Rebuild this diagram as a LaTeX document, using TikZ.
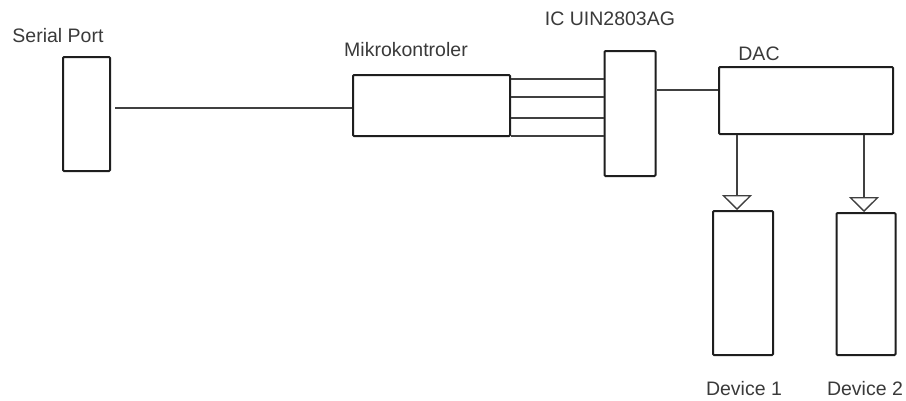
\documentclass[tikz,border=0pt]{standalone}
\usepackage{fontspec}
\setmainfont{Liberation Sans}
\usetikzlibrary{arrows.meta}
\definecolor{ink}{HTML}{1E1E1E}
\definecolor{txt}{HTML}{3A3A3A}
\begin{document}
\begin{tikzpicture}[x=1pt,y=-1pt,
  blk/.style={draw=ink,line width=2pt,rounded corners=1pt,inner sep=0pt,fill=white},
  wire/.style={draw=ink!85,line width=1.3pt},
  lbl/.style={text=txt,font=\fontsize{19.5}{21}\selectfont,inner sep=0pt},
  opentip/.style={-{Triangle[open,length=15pt,width=30pt,fill=white,line width=1.3pt]}}]
\useasboundingbox[fill=white] (0,0) rectangle (906,400);
% blocks
\node[blk,minimum width=47pt,minimum height=114pt] (serial) at (86.5,114) {};
\node[blk,minimum width=157pt,minimum height=61pt] (micro) at (431.5,105.5) {};
\node[blk,minimum width=51pt,minimum height=125pt] (ic) at (630,113.5) {};
\node[blk,minimum width=174pt,minimum height=67pt] (dac) at (806,100.5) {};
\node[blk,minimum width=60pt,minimum height=144pt] (dev1) at (743,283) {};
\node[blk,minimum width=59pt,minimum height=142pt] (dev2) at (866,284) {};
% labels
\node[lbl] (lserial) at (58,36) {Serial Port};
\node[lbl] (lmicro) at (406,50) {Mikrokontroler};
\node[lbl] (lic) at (610,19) {IC UIN2803AG};
\node[lbl] (ldac) at (759,54) {DAC};
\node[lbl] (ldev1) at (744,389) {Device 1};
\node[lbl] (ldev2) at (865,389) {Device 2};
% connectors
\coordinate (s1) at (115,108);
\draw[wire] (s1) -- (s1 -| micro.west);
\foreach \yy in {79,97,118,136}{
  \draw[wire] (micro.east |- 0,\yy) -- (ic.west |- 0,\yy);
}
\draw[wire] (ic.east |- 0,90) -- (dac.west |- 0,90);
\draw[wire,opentip] (dac.south -| 737,0) -- (dev1.north -| 737,0);
\draw[wire,opentip] (dac.south -| 864,0) -- (dev2.north -| 864,0);
\end{tikzpicture}
\end{document}
